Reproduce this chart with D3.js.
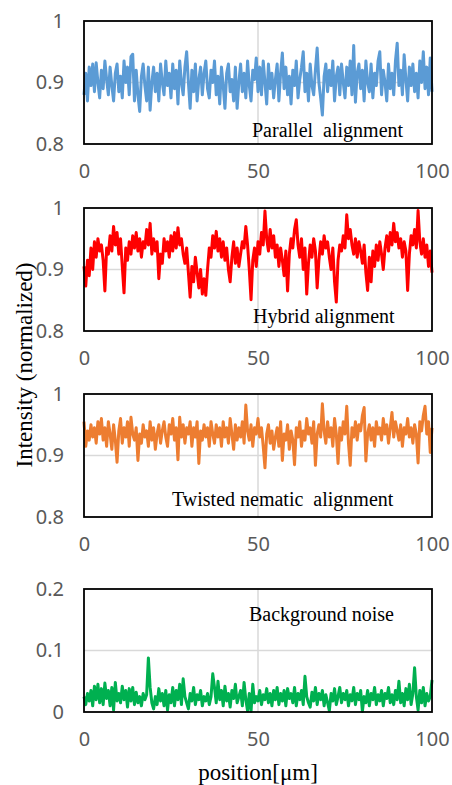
<!DOCTYPE html>
<html>
  <head>
    <meta charset="utf-8">
    <title>Intensity profiles</title>
    <style>
      body { margin: 0; background: #fff; }
      svg { display: block; }
    </style>
  </head>
  <body>
    <script src="https://d3js.org/d3.v7.min.js"></script>
    <script type="text/javascript">
      // sampling step along the position axis (um)
      var step = 0.5;

      var parallel = [
        0.880, 0.915, 0.870, 0.925, 0.895, 0.930, 0.885, 0.932, 0.900, 0.875,
        0.920, 0.890, 0.935, 0.905, 0.880, 0.925, 0.895, 0.870, 0.915, 0.930,
        0.885, 0.910, 0.875, 0.935, 0.900, 0.925, 0.880, 0.942, 0.946, 0.870,
        0.920, 0.880, 0.853, 0.910, 0.930, 0.895, 0.870, 0.925, 0.855, 0.900,
        0.925, 0.885, 0.915, 0.870, 0.930, 0.900, 0.880, 0.935, 0.895, 0.915,
        0.875, 0.930, 0.890, 0.920, 0.865, 0.935, 0.900, 0.880, 0.925, 0.950,
        0.900, 0.858, 0.920, 0.885, 0.930, 0.870, 0.905, 0.925, 0.880, 0.915,
        0.935, 0.890, 0.875, 0.920, 0.900, 0.935, 0.880, 0.910, 0.865, 0.925,
        0.895, 0.858, 0.915, 0.930, 0.885, 0.905, 0.870, 0.925, 0.858, 0.900,
        0.930, 0.885, 0.915, 0.875, 0.935, 0.895, 0.870, 0.920, 0.905, 0.940,
        0.885, 0.925, 0.880, 0.935, 0.900, 0.865, 0.930, 0.890, 0.915, 0.875,
        0.905, 0.930, 0.870, 0.915, 0.948, 0.890, 0.925, 0.880, 0.910, 0.865,
        0.920, 0.895, 0.935, 0.875, 0.905, 0.925, 0.950, 0.885, 0.915, 0.870,
        0.930, 0.895, 0.880, 0.920, 0.956, 0.900, 0.875, 0.847, 0.910, 0.930,
        0.885, 0.920, 0.895, 0.935, 0.870, 0.910, 0.925, 0.880, 0.930, 0.900,
        0.875, 0.925, 0.895, 0.935, 0.880, 0.960, 0.868, 0.915, 0.930, 0.890,
        0.920, 0.870, 0.935, 0.900, 0.885, 0.930, 0.875, 0.915, 0.895, 0.935,
        0.950, 0.880, 0.920, 0.900, 0.870, 0.930, 0.890, 0.915, 0.880, 0.935,
        0.964, 0.895, 0.920, 0.880, 0.945, 0.905, 0.870, 0.925, 0.895, 0.930,
        0.885, 0.915, 0.875, 0.935, 0.900, 0.950, 0.890, 0.925, 0.880, 0.940, 0.885
      ];

      var hybrid = [
        0.905, 0.873, 0.915, 0.890, 0.935, 0.900, 0.945, 0.920, 0.950, 0.930,
        0.940, 0.915, 0.865, 0.935, 0.925, 0.955, 0.930, 0.970, 0.940, 0.960,
        0.925, 0.950, 0.905, 0.862, 0.935, 0.915, 0.945, 0.925, 0.955, 0.935,
        0.960, 0.930, 0.950, 0.920, 0.945, 0.935, 0.965, 0.940, 0.975, 0.925,
        0.950, 0.930, 0.945, 0.885, 0.925, 0.910, 0.950, 0.930, 0.945, 0.920,
        0.955, 0.930, 0.960, 0.935, 0.968, 0.940, 0.950, 0.925, 0.910, 0.935,
        0.895, 0.855, 0.905, 0.880, 0.920, 0.895, 0.870, 0.900, 0.860, 0.885,
        0.858, 0.900, 0.935, 0.920, 0.955, 0.935, 0.962, 0.930, 0.950, 0.920,
        0.945, 0.915, 0.935, 0.900, 0.880, 0.920, 0.945, 0.910, 0.935, 0.905,
        0.925, 0.945, 0.935, 0.970, 0.940, 0.900, 0.851, 0.915, 0.935, 0.905,
        0.945, 0.925, 0.960, 0.940, 0.995, 0.950, 0.930, 0.965, 0.935, 0.955,
        0.920, 0.940, 0.905, 0.935, 0.915, 0.890, 0.930, 0.865, 0.925, 0.950,
        0.935, 0.965, 0.981, 0.940, 0.920, 0.950, 0.900, 0.935, 0.860, 0.910,
        0.940, 0.920, 0.950, 0.930, 0.870, 0.915, 0.945, 0.925, 0.955, 0.935,
        0.945, 0.920, 0.900, 0.935, 0.880, 0.847, 0.915, 0.940, 0.930, 0.955,
        0.935, 0.989, 0.950, 0.965, 0.940, 0.925, 0.950, 0.920, 0.945, 0.930,
        0.910, 0.940, 0.895, 0.866, 0.920, 0.880, 0.930, 0.905, 0.940, 0.915,
        0.945, 0.925, 0.900, 0.935, 0.955, 0.930, 0.960, 0.940, 0.975, 0.945,
        0.960, 0.935, 0.950, 0.920, 0.945, 0.930, 0.866, 0.925, 0.955, 0.940,
        0.965, 0.935, 0.996, 0.945, 0.925, 0.950, 0.920, 0.940, 0.905, 0.930, 0.895
      ];

      var twisted = [
        0.955, 0.915, 0.940, 0.925, 0.950, 0.930, 0.945, 0.920, 0.955, 0.935,
        0.960, 0.925, 0.945, 0.915, 0.955, 0.935, 0.910, 0.950, 0.925, 0.889,
        0.940, 0.960, 0.920, 0.945, 0.930, 0.955, 0.915, 0.962, 0.935, 0.925,
        0.945, 0.892, 0.935, 0.920, 0.950, 0.930, 0.940, 0.915, 0.955, 0.925,
        0.945, 0.910, 0.935, 0.950, 0.920, 0.940, 0.955, 0.930, 0.915, 0.950,
        0.935, 0.960, 0.925, 0.945, 0.893, 0.962, 0.930, 0.950, 0.920, 0.945,
        0.935, 0.955, 0.915, 0.945, 0.930, 0.955, 0.887, 0.940, 0.925, 0.950,
        0.930, 0.945, 0.915, 0.955, 0.935, 0.920, 0.950, 0.930, 0.945, 0.915,
        0.955, 0.930, 0.945, 0.920, 0.960, 0.935, 0.910, 0.950, 0.925, 0.945,
        0.930, 0.955, 0.920, 0.982, 0.940, 0.925, 0.950, 0.915, 0.945, 0.935,
        0.960, 0.930, 0.945, 0.915, 0.880, 0.935, 0.950, 0.920, 0.940, 0.910,
        0.930, 0.945, 0.915, 0.955, 0.892, 0.935, 0.925, 0.950, 0.910, 0.940,
        0.925, 0.885, 0.945, 0.930, 0.955, 0.915, 0.940, 0.925, 0.960, 0.935,
        0.945, 0.920, 0.955, 0.884, 0.935, 0.950, 0.930, 0.984, 0.940, 0.920,
        0.955, 0.930, 0.945, 0.915, 0.960, 0.935, 0.887, 0.945, 0.925, 0.955,
        0.935, 0.980, 0.920, 0.884, 0.945, 0.930, 0.955, 0.925, 0.950, 0.940,
        0.965, 0.978, 0.891, 0.935, 0.950, 0.925, 0.945, 0.915, 0.955, 0.935,
        0.945, 0.925, 0.960, 0.935, 0.950, 0.920, 0.945, 0.970, 0.930, 0.955,
        0.940, 0.925, 0.950, 0.915, 0.945, 0.935, 0.960, 0.930, 0.945, 0.920,
        0.950, 0.935, 0.888, 0.955, 0.940, 0.965, 0.980, 0.935, 0.955, 0.905, 0.945
      ];

      var background = [
        0.025, 0.012, 0.030, 0.018, 0.035, 0.010, 0.042, 0.020, 0.045, 0.015,
        0.038, 0.012, 0.047, 0.022, 0.035, 0.010, 0.040, 0.003, 0.048, 0.018,
        0.030, 0.015, 0.042, 0.020, 0.035, 0.008, 0.038, 0.018, 0.040, 0.012,
        0.032, 0.015, 0.025, 0.010, 0.030, 0.020, 0.028, 0.088, 0.040, 0.015,
        0.005, 0.025, 0.012, 0.038, 0.018, 0.030, 0.010, 0.035, 0.003, 0.028,
        0.015, 0.040, 0.010, 0.035, 0.020, 0.045, 0.012, 0.054, 0.025, 0.015,
        0.005, 0.030, 0.018, 0.040, 0.012, 0.028, 0.020, 0.035, 0.010, 0.025,
        0.018, 0.030, 0.012, 0.025, 0.062, 0.040, 0.015, 0.050, 0.020, 0.035,
        0.010, 0.042, 0.018, 0.030, 0.008, 0.035, 0.022, 0.045, 0.015, 0.025,
        0.035, 0.010, 0.048, 0.020, 0.002, 0.030, 0.001, 0.045, 0.015, 0.025,
        0.018, 0.035, 0.012, 0.028, 0.020, 0.038, 0.015, 0.030, 0.010, 0.035,
        0.020, 0.040, 0.012, 0.030, 0.018, 0.035, 0.010, 0.038, 0.022, 0.030,
        0.015, 0.040, 0.010, 0.030, 0.020, 0.035, 0.012, 0.058, 0.025, 0.015,
        0.008, 0.032, 0.018, 0.040, 0.012, 0.030, 0.020, 0.035, 0.010, 0.028,
        0.015, 0.002, 0.030, 0.018, 0.038, 0.012, 0.025, 0.040, 0.015, 0.030,
        0.020, 0.035, 0.010, 0.028, 0.018, 0.040, 0.012, 0.030, 0.020, 0.035,
        0.001, 0.025, 0.015, 0.035, 0.010, 0.030, 0.020, 0.040, 0.012, 0.028,
        0.018, 0.035, 0.010, 0.030, 0.022, 0.040, 0.015, 0.028, 0.012, 0.035,
        0.020, 0.050, 0.015, 0.030, 0.010, 0.038, 0.020, 0.045, 0.012, 0.030,
        0.072, 0.025, 0.003, 0.035, 0.015, 0.040, 0.010, 0.030, 0.018, 0.025, 0.052
      ];

      var xTicks = [0, 50, 100];
      var alignTicks = [0.8, 0.9, 1];
      var noiseTicks = [0, 0.1, 0.2];

      var panels = [
        { values: parallel, domain: [0.8, 1], ticks: alignTicks, color: '#5b9bd5',
          label: 'Parallel\u00a0 alignment', top: 21, lx: 252, ly: 137 },
        { values: hybrid, domain: [0.8, 1], ticks: alignTicks, color: '#ff0000',
          label: 'Hybrid alignment', top: 208, lx: 253, ly: 323 },
        { values: twisted, domain: [0.8, 1], ticks: alignTicks, color: '#ed7d31',
          label: 'Twisted nematic\u00a0 alignment', top: 394, lx: 172, ly: 506 },
        { values: background, domain: [0, 0.2], ticks: noiseTicks, color: '#00b050',
          label: 'Background noise', top: 589, lx: 249, ly: 621 }
      ];

      var w = 452;
      var h = 785;
      var left = 84, right = 432, ph = 123;

      var svg = d3.select('body').append('svg').attr('width', w).attr('height', h);

      var xScale = d3.scaleLinear().domain([0, 100]).range([left, right]);

      panels.forEach(function(p) {
        var yScale = d3.scaleLinear().domain(p.domain).range([p.top + ph, p.top]);
        var g = svg.append('g');

        // gridlines
        g.append('line')
          .attr('x1', xScale(50)).attr('x2', xScale(50))
          .attr('y1', p.top).attr('y2', p.top + ph)
          .attr('stroke', '#d9d9d9').attr('stroke-width', 1.5);
        g.append('line')
          .attr('x1', left).attr('x2', right)
          .attr('y1', yScale(p.ticks[1])).attr('y2', yScale(p.ticks[1]))
          .attr('stroke', '#d9d9d9').attr('stroke-width', 1.5);

        var line = d3.line()
          .x(function(d, i) { return xScale(i * step); })
          .y(function(d) { return yScale(d); });

        g.append('path')
          .datum(p.values)
          .attr('d', line)
          .attr('fill', 'none')
          .attr('stroke', p.color)
          .attr('stroke-width', 3)
          .attr('stroke-linejoin', 'round');

        g.append('rect')
          .attr('x', left).attr('y', p.top)
          .attr('width', right - left).attr('height', ph)
          .attr('fill', 'none').attr('stroke', '#000').attr('stroke-width', 1.8);

        g.append('text')
          .text(p.label)
          .attr('x', p.lx).attr('y', p.ly)
          .attr('font-family', 'Liberation Serif, serif')
          .attr('font-size', '20px')
          .attr('fill', '#000');

        var yAxis = g.append('g')
          .attr('transform', 'translate(' + left + ',0)')
          .call(d3.axisLeft(yScale).tickValues(p.ticks).tickSize(0).tickPadding(20)
            .tickFormat(function(d) { return d3.format('~g')(d); }));
        var xAxis = g.append('g')
          .attr('transform', 'translate(0,' + (p.top + ph) + ')')
          .call(d3.axisBottom(xScale).tickValues(xTicks).tickSize(0).tickPadding(20));

        [yAxis, xAxis].forEach(function(a) {
          a.select('.domain').remove();
          a.selectAll('text')
            .attr('font-family', 'Noto Sans, sans-serif')
            .attr('font-size', '20px')
            .attr('fill', '#595959');
        });
      });

      svg.append('text')
        .text('Intensity (normalized)')
        .attr('transform', 'translate(32,365) rotate(-90)')
        .attr('text-anchor', 'middle')
        .attr('font-family', 'Liberation Serif, serif')
        .attr('font-size', '23px')
        .attr('fill', '#000');

      svg.append('text')
        .text('position[\u03bcm]')
        .attr('x', xScale(50))
        .attr('y', 780)
        .attr('text-anchor', 'middle')
        .attr('font-family', 'Liberation Serif, serif')
        .attr('font-size', '23px')
        .attr('fill', '#000');
    </script>
  </body>
</html>
